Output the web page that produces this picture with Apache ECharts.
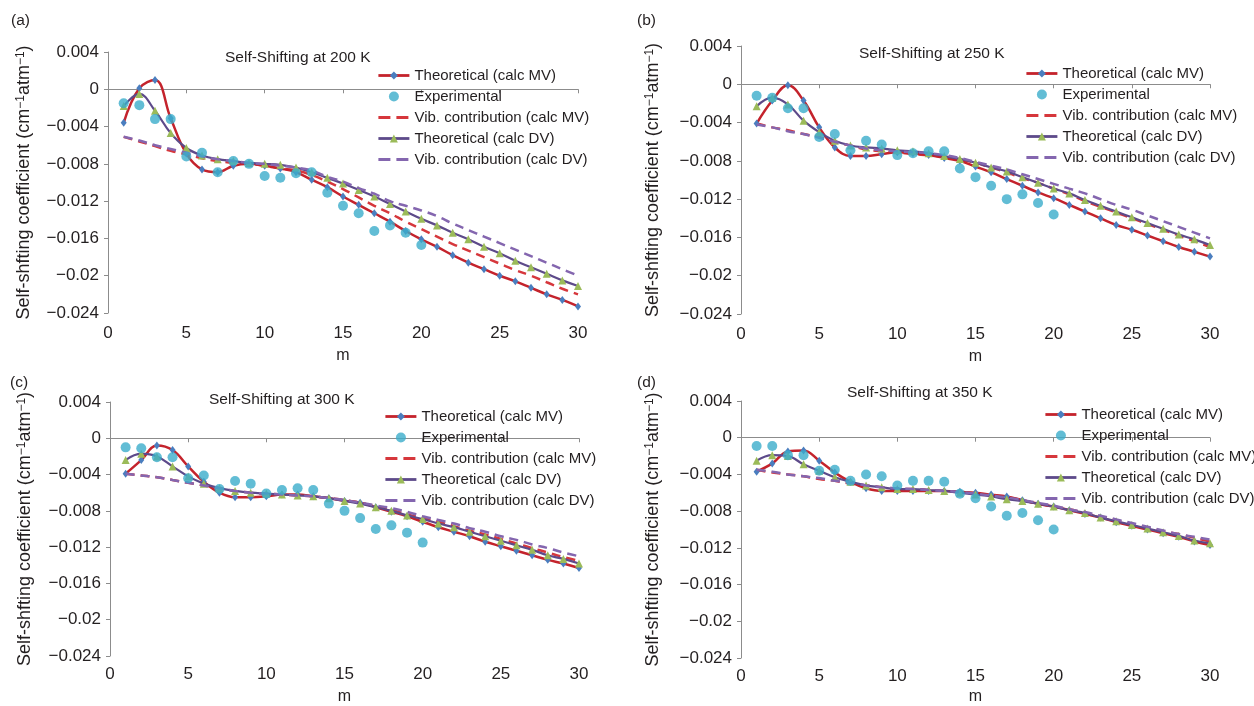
<!DOCTYPE html>
<html lang="en">
<head>
    <meta charset="UTF-8">
    <title>Self-shifting coefficients</title>
    <script type="text/javascript" src="https://cdn.jsdelivr.net/npm/echarts@6/dist/echarts.min.js"></script>
    <style>
        html, body { margin: 0; padding: 0; background: #fff; }
        #main { width: 1254px; height: 706px; }
    </style>
</head>
<body>
<div id="main"></div>
<script type="text/javascript">
    // rotational quantum number m
    var mValues = [1, 2, 3, 4, 5, 6, 7, 8, 9, 10, 11, 12, 13, 14, 15, 16, 17, 18, 19, 20,
        21, 22, 23, 24, 25, 26, 27, 28, 29, 30];
    var temps = ['200', '250', '300', '350'];
    var panelLabels = ['(a)', '(b)', '(c)', '(d)'];
    var yTicks = [0.004, 0, -0.004, -0.008, -0.012, -0.016, -0.02, -0.024];
    var seriesNames = ['Theoretical (calc MV)', 'Experimental', 'Vib. contribution (calc MV)',
        'Theoretical (calc DV)', 'Vib. contribution (calc DV)'];

    // 200 K
    var mvTheo200 = [-0.0036, 0.0001, 0.0010, -0.0031, -0.0069, -0.0086, -0.0089, -0.0082, -0.0080, -0.0082,
        -0.0085, -0.0089, -0.0097, -0.0105, -0.0115, -0.0124, -0.0133, -0.0142, -0.0152, -0.0161,
        -0.0169, -0.0178, -0.0186, -0.0193, -0.0200, -0.0206, -0.0213, -0.0220, -0.0226, -0.0233];
    var expt200 = [-0.0015, -0.0017, -0.0032, -0.0032, -0.0072, -0.0068, -0.0089, -0.0077, -0.0080, -0.0093,
        -0.0095, -0.0090, -0.0089, -0.0111, -0.0125, -0.0133, -0.0152, -0.0146, -0.0154, -0.0167];
    var vibMv200 = [-0.0051, -0.0056, -0.0061, -0.0066, -0.0070, -0.0074, -0.0077, -0.0079, -0.0080, -0.0082,
        -0.0085, -0.0087, -0.0092, -0.0099, -0.0107, -0.0116, -0.0125, -0.0133, -0.0142, -0.0150,
        -0.0158, -0.0166, -0.0173, -0.0180, -0.0187, -0.0194, -0.0200, -0.0207, -0.0214, -0.0220];
    var dvTheo200 = [-0.0018, -0.0005, -0.0023, -0.0047, -0.0063, -0.0071, -0.0075, -0.0077, -0.0079, -0.0080,
        -0.0081, -0.0084, -0.0089, -0.0095, -0.0101, -0.0108, -0.0115, -0.0123, -0.0131, -0.0139,
        -0.0146, -0.0154, -0.0161, -0.0169, -0.0176, -0.0184, -0.0191, -0.0198, -0.0205, -0.0211];
    var vibDv200 = [-0.0051, -0.0055, -0.0060, -0.0064, -0.0068, -0.0072, -0.0075, -0.0077, -0.0079, -0.0080,
        -0.0082, -0.0084, -0.0087, -0.0094, -0.0099, -0.0106, -0.0112, -0.0120, -0.0125, -0.0130,
        -0.0136, -0.0144, -0.0151, -0.0158, -0.0165, -0.0172, -0.0179, -0.0186, -0.0193, -0.0200];

    // 250 K
    var mvTheo250 = [-0.0041, -0.0017, -0.0001, -0.0017, -0.0045, -0.0066, -0.0075, -0.0075, -0.0073, -0.0071,
        -0.0072, -0.0074, -0.0077, -0.0080, -0.0086, -0.0092, -0.0099, -0.0106, -0.0113, -0.0119,
        -0.0126, -0.0133, -0.0140, -0.0147, -0.0152, -0.0158, -0.0164, -0.0170, -0.0175, -0.0180];
    var expt250 = [-0.0012, -0.0014, -0.0025, -0.0025, -0.0055, -0.0052, -0.0069, -0.0059, -0.0063, -0.0074,
        -0.0072, -0.0070, -0.0070, -0.0088, -0.0097, -0.0106, -0.0120, -0.0115, -0.0124, -0.0136];
    var vibMv250 = [-0.0041, -0.0045, -0.0048, -0.0052, -0.0055, -0.0060, -0.0064, -0.0068, -0.0070, -0.0071,
        -0.0073, -0.0074, -0.0076, -0.0079, -0.0082, -0.0087, -0.0092, -0.0098, -0.0103, -0.0109,
        -0.0115, -0.0122, -0.0128, -0.0134, -0.0140, -0.0146, -0.0152, -0.0158, -0.0164, -0.0170];
    var dvTheo250 = [-0.0023, -0.0014, -0.0021, -0.0038, -0.0050, -0.0059, -0.0064, -0.0066, -0.0067, -0.0069,
        -0.0070, -0.0072, -0.0075, -0.0078, -0.0082, -0.0087, -0.0091, -0.0097, -0.0103, -0.0109,
        -0.0114, -0.0121, -0.0127, -0.0133, -0.0139, -0.0145, -0.0151, -0.0157, -0.0162, -0.0168];
    var vibDv250 = [-0.0042, -0.0045, -0.0049, -0.0052, -0.0056, -0.0060, -0.0064, -0.0067, -0.0069, -0.0070,
        -0.0071, -0.0072, -0.0074, -0.0077, -0.0081, -0.0085, -0.0089, -0.0094, -0.0099, -0.0104,
        -0.0109, -0.0114, -0.0120, -0.0126, -0.0131, -0.0137, -0.0143, -0.0149, -0.0155, -0.0161];

    // 300 K
    var mvTheo300 = [-0.0039, -0.0024, -0.0008, -0.0013, -0.0031, -0.0048, -0.0060, -0.0065, -0.0065, -0.0064,
        -0.0062, -0.0062, -0.0064, -0.0066, -0.0069, -0.0071, -0.0076, -0.0081, -0.0086, -0.0092,
        -0.0098, -0.0103, -0.0108, -0.0114, -0.0119, -0.0124, -0.0129, -0.0134, -0.0138, -0.0143];
    var expt300 = [-0.0010, -0.0011, -0.0021, -0.0021, -0.0044, -0.0041, -0.0056, -0.0047, -0.0050, -0.0061,
        -0.0057, -0.0055, -0.0057, -0.0072, -0.0080, -0.0088, -0.0100, -0.0096, -0.0104, -0.0115];
    var vibMv300 = [-0.0039, -0.0041, -0.0043, -0.0046, -0.0049, -0.0052, -0.0055, -0.0058, -0.0060, -0.0061,
        -0.0062, -0.0063, -0.0064, -0.0066, -0.0068, -0.0071, -0.0075, -0.0079, -0.0084, -0.0088,
        -0.0092, -0.0097, -0.0102, -0.0106, -0.0111, -0.0116, -0.0121, -0.0126, -0.0131, -0.0135];
    var dvTheo300 = [-0.0024, -0.0017, -0.0020, -0.0031, -0.0042, -0.0050, -0.0055, -0.0058, -0.0060, -0.0061,
        -0.0062, -0.0063, -0.0064, -0.0066, -0.0069, -0.0072, -0.0076, -0.0080, -0.0085, -0.0089,
        -0.0094, -0.0098, -0.0103, -0.0108, -0.0113, -0.0118, -0.0123, -0.0129, -0.0133, -0.0138];
    var vibDv300 = [-0.0039, -0.0041, -0.0043, -0.0046, -0.0049, -0.0052, -0.0055, -0.0058, -0.0060, -0.0061,
        -0.0062, -0.0063, -0.0064, -0.0066, -0.0068, -0.0071, -0.0074, -0.0077, -0.0081, -0.0086,
        -0.0090, -0.0094, -0.0099, -0.0103, -0.0108, -0.0112, -0.0117, -0.0121, -0.0126, -0.0130];

    // 350 K
    var mvTheo350 = [-0.0037, -0.0028, -0.0015, -0.0014, -0.0025, -0.0038, -0.0048, -0.0055, -0.0058, -0.0058,
        -0.0058, -0.0058, -0.0058, -0.0059, -0.0060, -0.0062, -0.0064, -0.0068, -0.0072, -0.0075,
        -0.0079, -0.0083, -0.0087, -0.0092, -0.0096, -0.0100, -0.0104, -0.0108, -0.0113, -0.0117];
    var expt350 = [-0.0009, -0.0009, -0.0019, -0.0019, -0.0036, -0.0035, -0.0047, -0.0040, -0.0042, -0.0052,
        -0.0047, -0.0047, -0.0048, -0.0061, -0.0066, -0.0075, -0.0085, -0.0082, -0.0090, -0.0100];
    var vibMv350 = [-0.0035, -0.0038, -0.0040, -0.0042, -0.0045, -0.0047, -0.0050, -0.0052, -0.0054, -0.0056,
        -0.0056, -0.0057, -0.0058, -0.0059, -0.0061, -0.0063, -0.0065, -0.0068, -0.0072, -0.0075,
        -0.0078, -0.0082, -0.0086, -0.0090, -0.0094, -0.0098, -0.0102, -0.0105, -0.0109, -0.0113];
    var dvTheo350 = [-0.0025, -0.0019, -0.0020, -0.0029, -0.0036, -0.0043, -0.0048, -0.0052, -0.0054, -0.0056,
        -0.0056, -0.0057, -0.0058, -0.0060, -0.0062, -0.0064, -0.0067, -0.0069, -0.0072, -0.0075,
        -0.0079, -0.0082, -0.0087, -0.0091, -0.0095, -0.0099, -0.0103, -0.0107, -0.0112, -0.0115];
    var vibDv350 = [-0.0035, -0.0037, -0.0040, -0.0042, -0.0044, -0.0047, -0.0049, -0.0052, -0.0054, -0.0055,
        -0.0056, -0.0057, -0.0058, -0.0059, -0.0061, -0.0063, -0.0065, -0.0068, -0.0071, -0.0074,
        -0.0078, -0.0081, -0.0085, -0.0089, -0.0093, -0.0097, -0.0101, -0.0105, -0.0108, -0.0111];

    var panels = [
        [mvTheo200, expt200, vibMv200, dvTheo200, vibDv200],
        [mvTheo250, expt250, vibMv250, dvTheo250, vibDv250],
        [mvTheo300, expt300, vibMv300, dvTheo300, vibDv300],
        [mvTheo350, expt350, vibMv350, dvTheo350, vibDv350]
    ];

    // layout of the four plots
    var grids = [
        {left: 108, top: 52, width: 470, height: 261},
        {left: 741, top: 46, width: 469, height: 268},
        {left: 110, top: 402, width: 469, height: 259},
        {left: 741, top: 401, width: 469, height: 262}
    ];
    var titlePos = [[225, 50], [859, 46], [209, 392], [847, 385]];
    var labelPos = [[6, 8], [632, 8], [5, 370], [632, 370]];
    var legendPos = [[377, 68], [1025, 66], [384, 409], [1044, 407]];
    var xNameGap = [35, 35, 33, 31];
    var xLabelMargin = [12, 12, 10, 10];
    var yNameGap = [75, 79, 76, 79];

    var FONT = '"Liberation Sans", Arial, Helvetica, sans-serif';
    var axisColor = '#8c8c8c';
    var textColor = '#231f20';

    function pairs(ys) {
        var out = [];
        for (var i = 0; i < ys.length; i++) {
            out.push([mValues[i], ys[i]]);
        }
        return out;
    }

    function fmtY(v) {
        var s = (Math.round(v * 1000) / 1000).toString();
        return s.replace('-', '\u2212');
    }

    // legend entries; the dashed ones get no marker and longer dashes
    var legendData = [
        {name: seriesNames[0], lineStyle: {width: 2.8}},
        {name: seriesNames[1]},
        {name: seriesNames[2], itemStyle: {opacity: 0}, lineStyle: {width: 2.8, type: [12, 6]}},
        {name: seriesNames[3], lineStyle: {width: 2.8}},
        {name: seriesNames[4], itemStyle: {opacity: 0}, lineStyle: {width: 2.8, type: [12, 6]}}
    ];

    var option = {
        backgroundColor: '#fff',
        animation: false,
        textStyle: {fontFamily: FONT, color: textColor},
        title: [],
        legend: [],
        grid: [],
        xAxis: [],
        yAxis: [],
        series: []
    };

    for (var p = 0; p < 4; p++) {
        var g = grids[p];
        option.grid.push({left: g.left, top: g.top, width: g.width, height: g.height, containLabel: false});

        option.title.push({
            text: 'Self-Shifting at ' + temps[p] + ' K',
            left: titlePos[p][0], top: titlePos[p][1], padding: 0,
            textStyle: {fontFamily: FONT, fontSize: 15.5, fontWeight: 'normal', color: textColor}
        });
        option.title.push({
            text: panelLabels[p],
            left: labelPos[p][0], top: labelPos[p][1],
            textStyle: {fontFamily: FONT, fontSize: 15.5, fontWeight: 'normal', color: textColor}
        });

        option.legend.push({
            orient: 'vertical',
            left: legendPos[p][0], top: legendPos[p][1],
            itemWidth: 31, itemHeight: 10, itemGap: 6,
            padding: 0,
            data: legendData,
            textStyle: {fontFamily: FONT, fontSize: 15, color: textColor},
            selectedMode: false
        });

        option.xAxis.push({
            type: 'value', gridIndex: p, min: 0, max: 30, interval: 5,
            name: 'm', nameLocation: 'middle', nameGap: xNameGap[p],
            nameTextStyle: {fontFamily: FONT, fontSize: 16, color: textColor},
            axisLine: {show: true, lineStyle: {color: axisColor, width: 1}},
            axisTick: {show: true, length: 4, lineStyle: {color: axisColor}},
            axisLabel: {fontFamily: FONT, fontSize: 17, color: textColor, margin: xLabelMargin[p]},
            splitLine: {show: false}
        });

        option.yAxis.push({
            type: 'value', gridIndex: p, min: -0.024, max: 0.004, interval: 0.004,
            name: '{n|Self-shfting coefficient (cm}{s|\u22121}{n|atm}{s|\u22121}{n|)}',
            nameLocation: 'middle', nameGap: yNameGap[p],
            nameTextStyle: {
                fontFamily: FONT, fontSize: 18, color: textColor,
                rich: {
                    n: {fontFamily: FONT, fontSize: 18, color: textColor},
                    s: {fontFamily: FONT, fontSize: 12, color: textColor, verticalAlign: 'top'}
                }
            },
            axisLine: {show: true, lineStyle: {color: axisColor, width: 1}},
            axisTick: {show: true, length: 4, lineStyle: {color: axisColor}},
            axisLabel: {fontFamily: FONT, fontSize: 17, color: textColor, margin: 9, formatter: fmtY},
            splitLine: {show: false}
        });

        var d = panels[p];
        option.series.push({
            name: seriesNames[0], type: 'line', xAxisIndex: p, yAxisIndex: p,
            data: pairs(d[0]), smooth: 0.4,
            symbol: 'diamond', symbolSize: [6, 8], showSymbol: true,
            lineStyle: {color: '#c4232c', width: 2.5},
            itemStyle: {color: '#4a7ebf'},
            z: 3
        });
        option.series.push({
            name: seriesNames[1], type: 'scatter', xAxisIndex: p, yAxisIndex: p,
            data: pairs(d[1]),
            symbol: 'circle', symbolSize: 10,
            itemStyle: {color: '#3badca'},
            z: 6
        });
        option.series.push({
            name: seriesNames[2], type: 'line', xAxisIndex: p, yAxisIndex: p,
            data: pairs(d[2]), smooth: 0.4,
            symbol: 'none', showSymbol: false,
            lineStyle: {color: '#d6373c', width: 2.5, type: [9, 6]},
            itemStyle: {color: '#d6373c'},
            z: 2
        });
        option.series.push({
            name: seriesNames[3], type: 'line', xAxisIndex: p, yAxisIndex: p,
            data: pairs(d[3]), smooth: 0.4,
            symbol: 'triangle', symbolSize: 8, showSymbol: true,
            lineStyle: {color: '#5d4a8a', width: 2.2},
            itemStyle: {color: '#9bbb59'},
            z: 4
        });
        option.series.push({
            name: seriesNames[4], type: 'line', xAxisIndex: p, yAxisIndex: p,
            data: pairs(d[4]), smooth: 0.4,
            symbol: 'none', showSymbol: false,
            lineStyle: {color: '#8466af', width: 2.5, type: [9, 6]},
            itemStyle: {color: '#8466af'},
            z: 5
        });
    }

    var myChart = echarts.init(document.getElementById('main'), null, {renderer: 'canvas'});
    myChart.setOption(option);
</script>
</body>
</html>
